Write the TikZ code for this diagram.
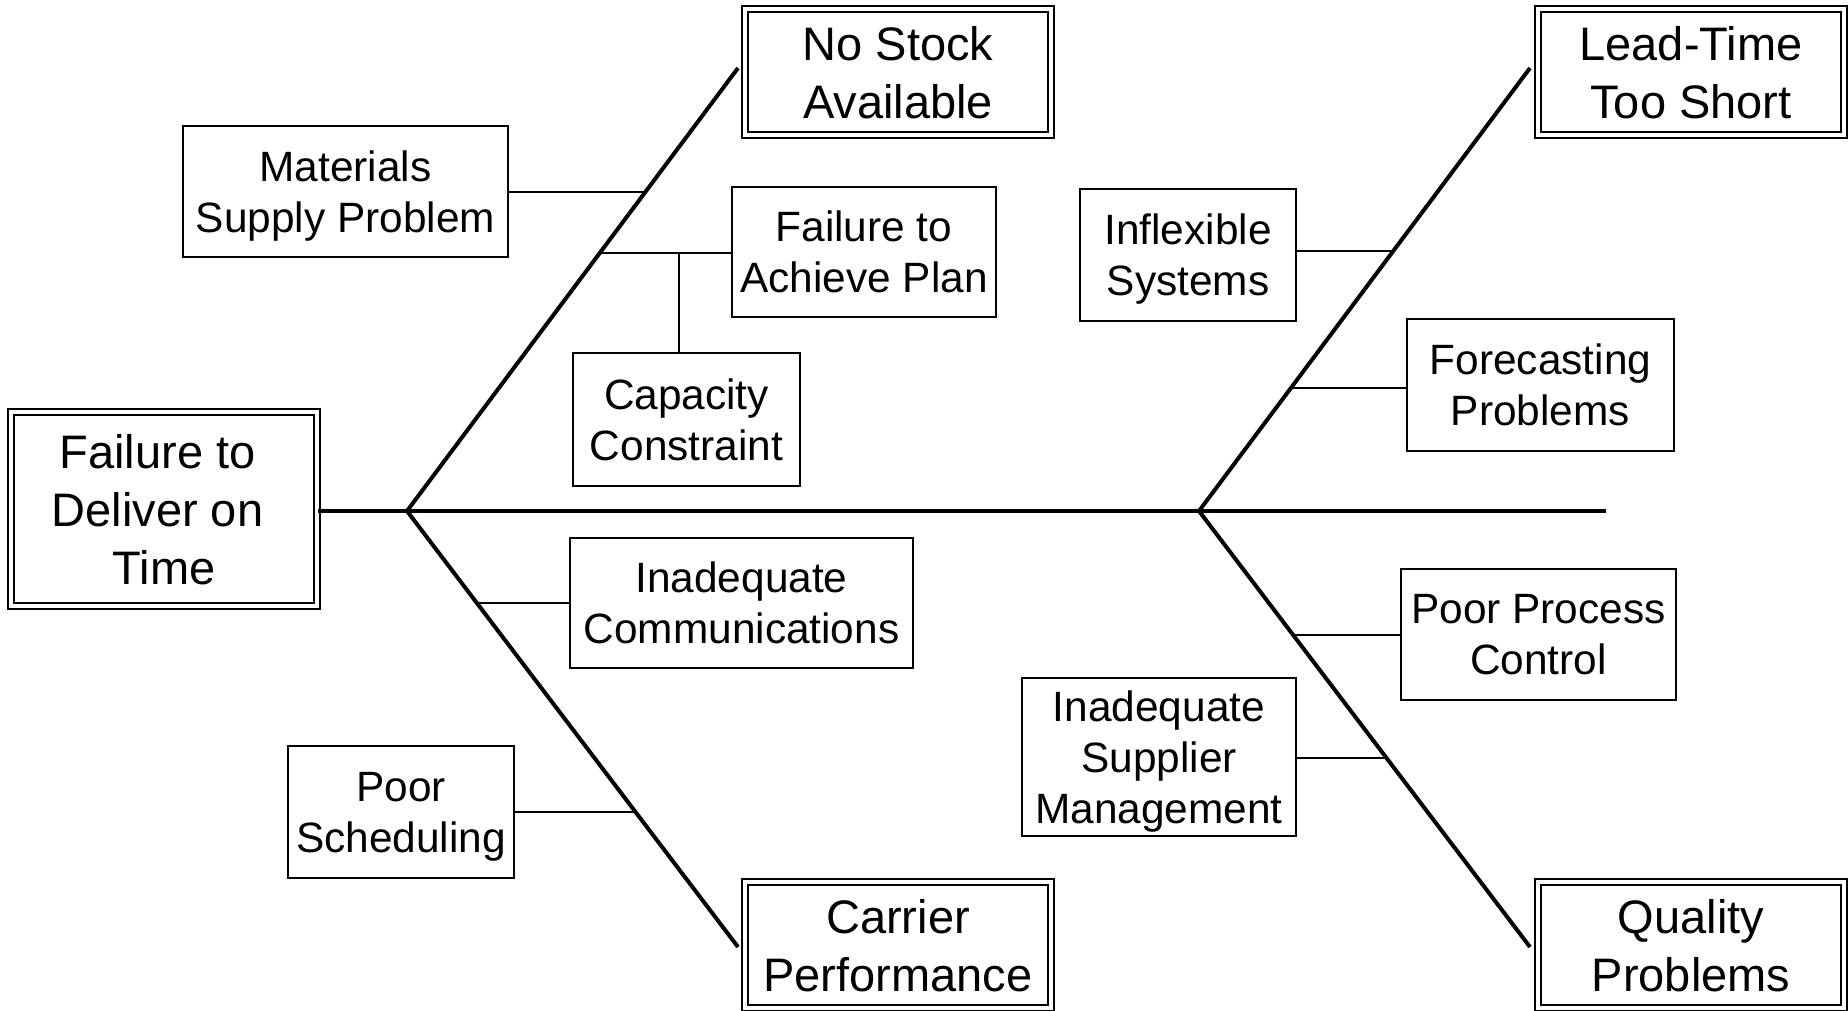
\documentclass[tikz,border=0pt]{standalone}
\usepackage{fontspec}
\setmainfont{Liberation Sans}
\usetikzlibrary{calc}
\begin{document}
\begin{tikzpicture}[x=0.5pt,y=-0.5pt,
  cause/.style={draw, line width=1.2pt, inner sep=0pt, align=center,
    text depth=0pt, font=\fontsize{21.2}{25.5}\selectfont},
  effect/.style={draw, line width=1.3pt, double, double distance=1.7pt,
    inner sep=0pt, align=center, text depth=0pt,
    font=\fontsize{23.5}{29}\selectfont},
  bone/.style={line width=2pt},
  twig/.style={line width=1pt}]
\useasboundingbox (0,0) rectangle (1848,1011);

% effect (head) and the four main categories
\node[effect, minimum width=153pt, minimum height=97pt] (head) at (164,509)
  {Failure to\kern0.278em\\Deliver on\kern0.278em\\Time};
\node[effect, minimum width=153pt, minimum height=63pt] (stock) at (898,72) {No Stock\\Available};
\node[effect, minimum width=153pt, minimum height=63pt] (lead) at (1691,72) {Lead-Time\\Too Short};
\node[effect, minimum width=153pt, minimum height=63pt] (carrier) at (898,945) {Carrier\\Performance};
\node[effect, minimum width=153pt, minimum height=63pt] (quality) at (1691,945) {Quality\\Problems};

% contributing causes
\node[cause, minimum width=162.5pt, minimum height=65.5pt] (mat) at (345.5,191.5) {Materials\\Supply Problem};
\node[cause, minimum width=132pt, minimum height=65pt] (plan) at (864,252) {Failure to\\Achieve Plan};
\node[cause, minimum width=113.5pt, minimum height=66.5pt] (cap) at (686.5,419.5) {Capacity\\Constraint};
\node[cause, minimum width=171.5pt, minimum height=65pt] (comm) at (741.5,603) {Inadequate\\Communications};
\node[cause, minimum width=113pt, minimum height=66pt] (sched) at (401,812) {Poor\\Scheduling};
\node[cause, minimum width=108pt, minimum height=66pt] (infl) at (1188,255) {Inflexible\\Systems};
\node[cause, minimum width=133.5pt, minimum height=66pt] (fore) at (1540.5,385) {Forecasting\\Problems};
\node[cause, minimum width=137.5pt, minimum height=65.5pt] (proc) at (1538.5,634.5) {Poor Process\\Control};
\node[cause, minimum width=137pt, minimum height=79pt] (supp) at (1159,757) {Inadequate\\Supplier\\Management};

% spine and forks
\coordinate (f1) at (407,511);
\coordinate (f2) at (1199,511);
\coordinate (tail) at (1606,511);
\coordinate (e1) at (738,68);
\coordinate (e2) at (738,947);
\coordinate (e3) at (1530,68);
\coordinate (e4) at (1530,947);

\draw[bone] (head.east |- f1) -- (tail);
\draw[bone] (e1) -- (f1) -- (e2);
\draw[bone] (e3) -- (f2) -- (e4);

% attachment points on the bones
\coordinate (b1) at ($(f1)!0.7201!(e1)$);
\coordinate (b2) at ($(f1)!0.5824!(e1)$);
\coordinate (b3) at ($(f1)!0.2110!(e2)$);
\coordinate (b4) at ($(f1)!0.6904!(e2)$);
\coordinate (b5) at ($(f2)!0.5869!(e3)$);
\coordinate (b6) at ($(f2)!0.2777!(e3)$);
\coordinate (b7) at ($(f2)!0.2844!(e4)$);
\coordinate (b8) at ($(f2)!0.5665!(e4)$);
\coordinate (j) at (679,253);

\draw[twig] (mat.east |- b1) -- (b1);
\draw[twig] (b2) -- (plan.west |- b2);
\draw[twig] (j) -- (cap.north -| j);
\draw[twig] (b3) -- (comm.west |- b3);
\draw[twig] (sched.east |- b4) -- (b4);
\draw[twig] (infl.east |- b5) -- (b5);
\draw[twig] (b6) -- (fore.west |- b6);
\draw[twig] (b7) -- (proc.west |- b7);
\draw[twig] (supp.east |- b8) -- (b8);
\end{tikzpicture}
\end{document}
